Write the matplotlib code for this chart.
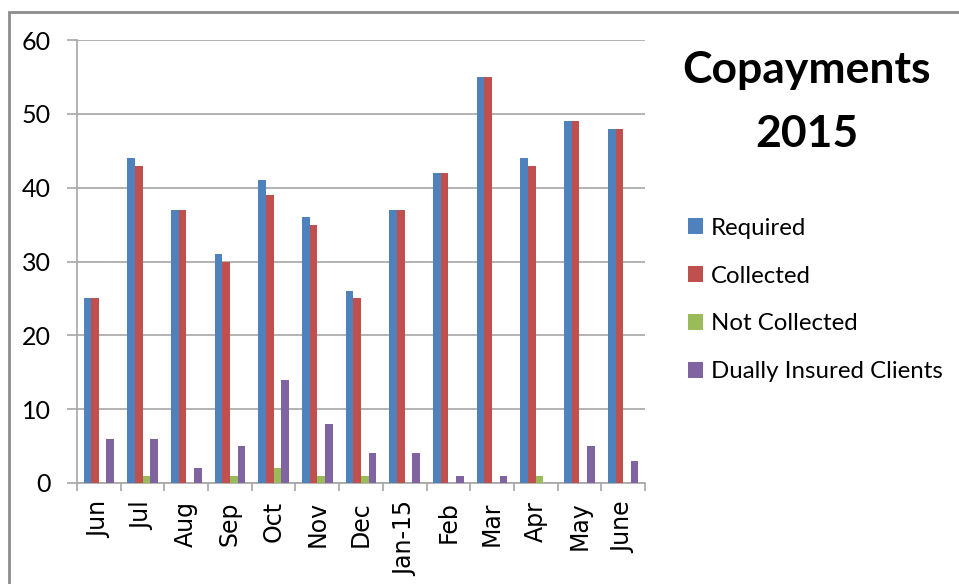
import matplotlib
matplotlib.use("Agg")
import matplotlib.pyplot as plt
import numpy as np
from matplotlib.patches import Rectangle

months = ["Jun", "Jul", "Aug", "Sep", "Oct", "Nov", "Dec", "Jan-15", "Feb", "Mar", "Apr", "May", "June"]
required = [25, 44, 37, 31, 41, 36, 26, 37, 42, 55, 44, 49, 48]
collected = [25, 43, 37, 30, 39, 35, 25, 37, 42, 55, 43, 49, 48]
not_collected = [0, 1, 0, 1, 2, 1, 1, 0, 0, 0, 1, 0, 0]
dually = [6, 6, 2, 5, 14, 8, 4, 4, 1, 1, 0, 5, 3]
series_names = ["Required", "Collected", "Not Collected", "Dually Insured Clients"]
colors = ["#4F81BD", "#C0504D", "#9BBB59", "#8064A2"]
y_ticks = [0, 10, 20, 30, 40, 50, 60]

fig = plt.figure(figsize=(9.59, 5.84), dpi=100)
fig.patch.set_facecolor("white")

# outer frame (cropped at right and bottom)
fig.patches.append(Rectangle((9/959, -0.1), 1.2, (584-12)/584 + 0.1, transform=fig.transFigure,
                             fill=False, edgecolor="#8c8c8c", linewidth=2.0))

ax = fig.add_axes([77/959, 1-483/584, (645-77)/959, (483-40)/584])
x = np.arange(len(months))
w = 0.175
data = [required, collected, not_collected, dually]
handles = []
for i, (vals, c, name) in enumerate(zip(data, colors, series_names)):
    b = ax.bar(x + (i - 1.5) * w, vals, width=w, color=c, label=name, zorder=3,
               edgecolor="none")
    handles.append(b)

ax.set_xlim(-0.5, len(months) - 0.5)
ax.set_ylim(0, 60)
ax.set_yticks(y_ticks)
ax.set_yticklabels([str(v) for v in y_ticks], fontfamily="Lato", fontsize=18)
ax.yaxis.grid(True, color="#a6a6a6", linewidth=1.2, zorder=0)
ax.tick_params(axis="y", length=7, width=1.2, color="#a6a6a6", pad=12)

ax.set_xticks(x)
ax.set_xticklabels(months, rotation=90, fontfamily="DejaVu Sans", fontsize=17)
ax.tick_params(axis="x", which="major", length=0, pad=13)
ax.set_xticks(np.arange(-0.5, len(months), 1), minor=True)
ax.tick_params(axis="x", which="minor", length=6, width=1.2, color="#a6a6a6")

for s in ["top", "right"]:
    ax.spines[s].set_visible(False)
ax.spines["left"].set_color("#a6a6a6")
ax.spines["left"].set_linewidth(1.2)
ax.spines["bottom"].set_color("#a6a6a6")
ax.spines["bottom"].set_linewidth(1.2)

fig.text(807/959, 1-83/584, "Copayments", ha="center", va="baseline",
         fontfamily="Lato", fontweight="bold", fontsize=32)
fig.text(807/959, 1-147/584, "2015", ha="center", va="baseline",
         fontfamily="Lato", fontweight="bold", fontsize=32)

leg = fig.legend(handles=handles, labels=series_names, loc="upper left",
                 bbox_to_anchor=(666/959, 1-196/584), frameon=False,
                 prop={"family": "Lato", "size": 17.3}, handlelength=0.63, handleheight=0.63,
                 handletextpad=0.33, labelspacing=1.12)

fig.savefig("out.png", dpi=100)
